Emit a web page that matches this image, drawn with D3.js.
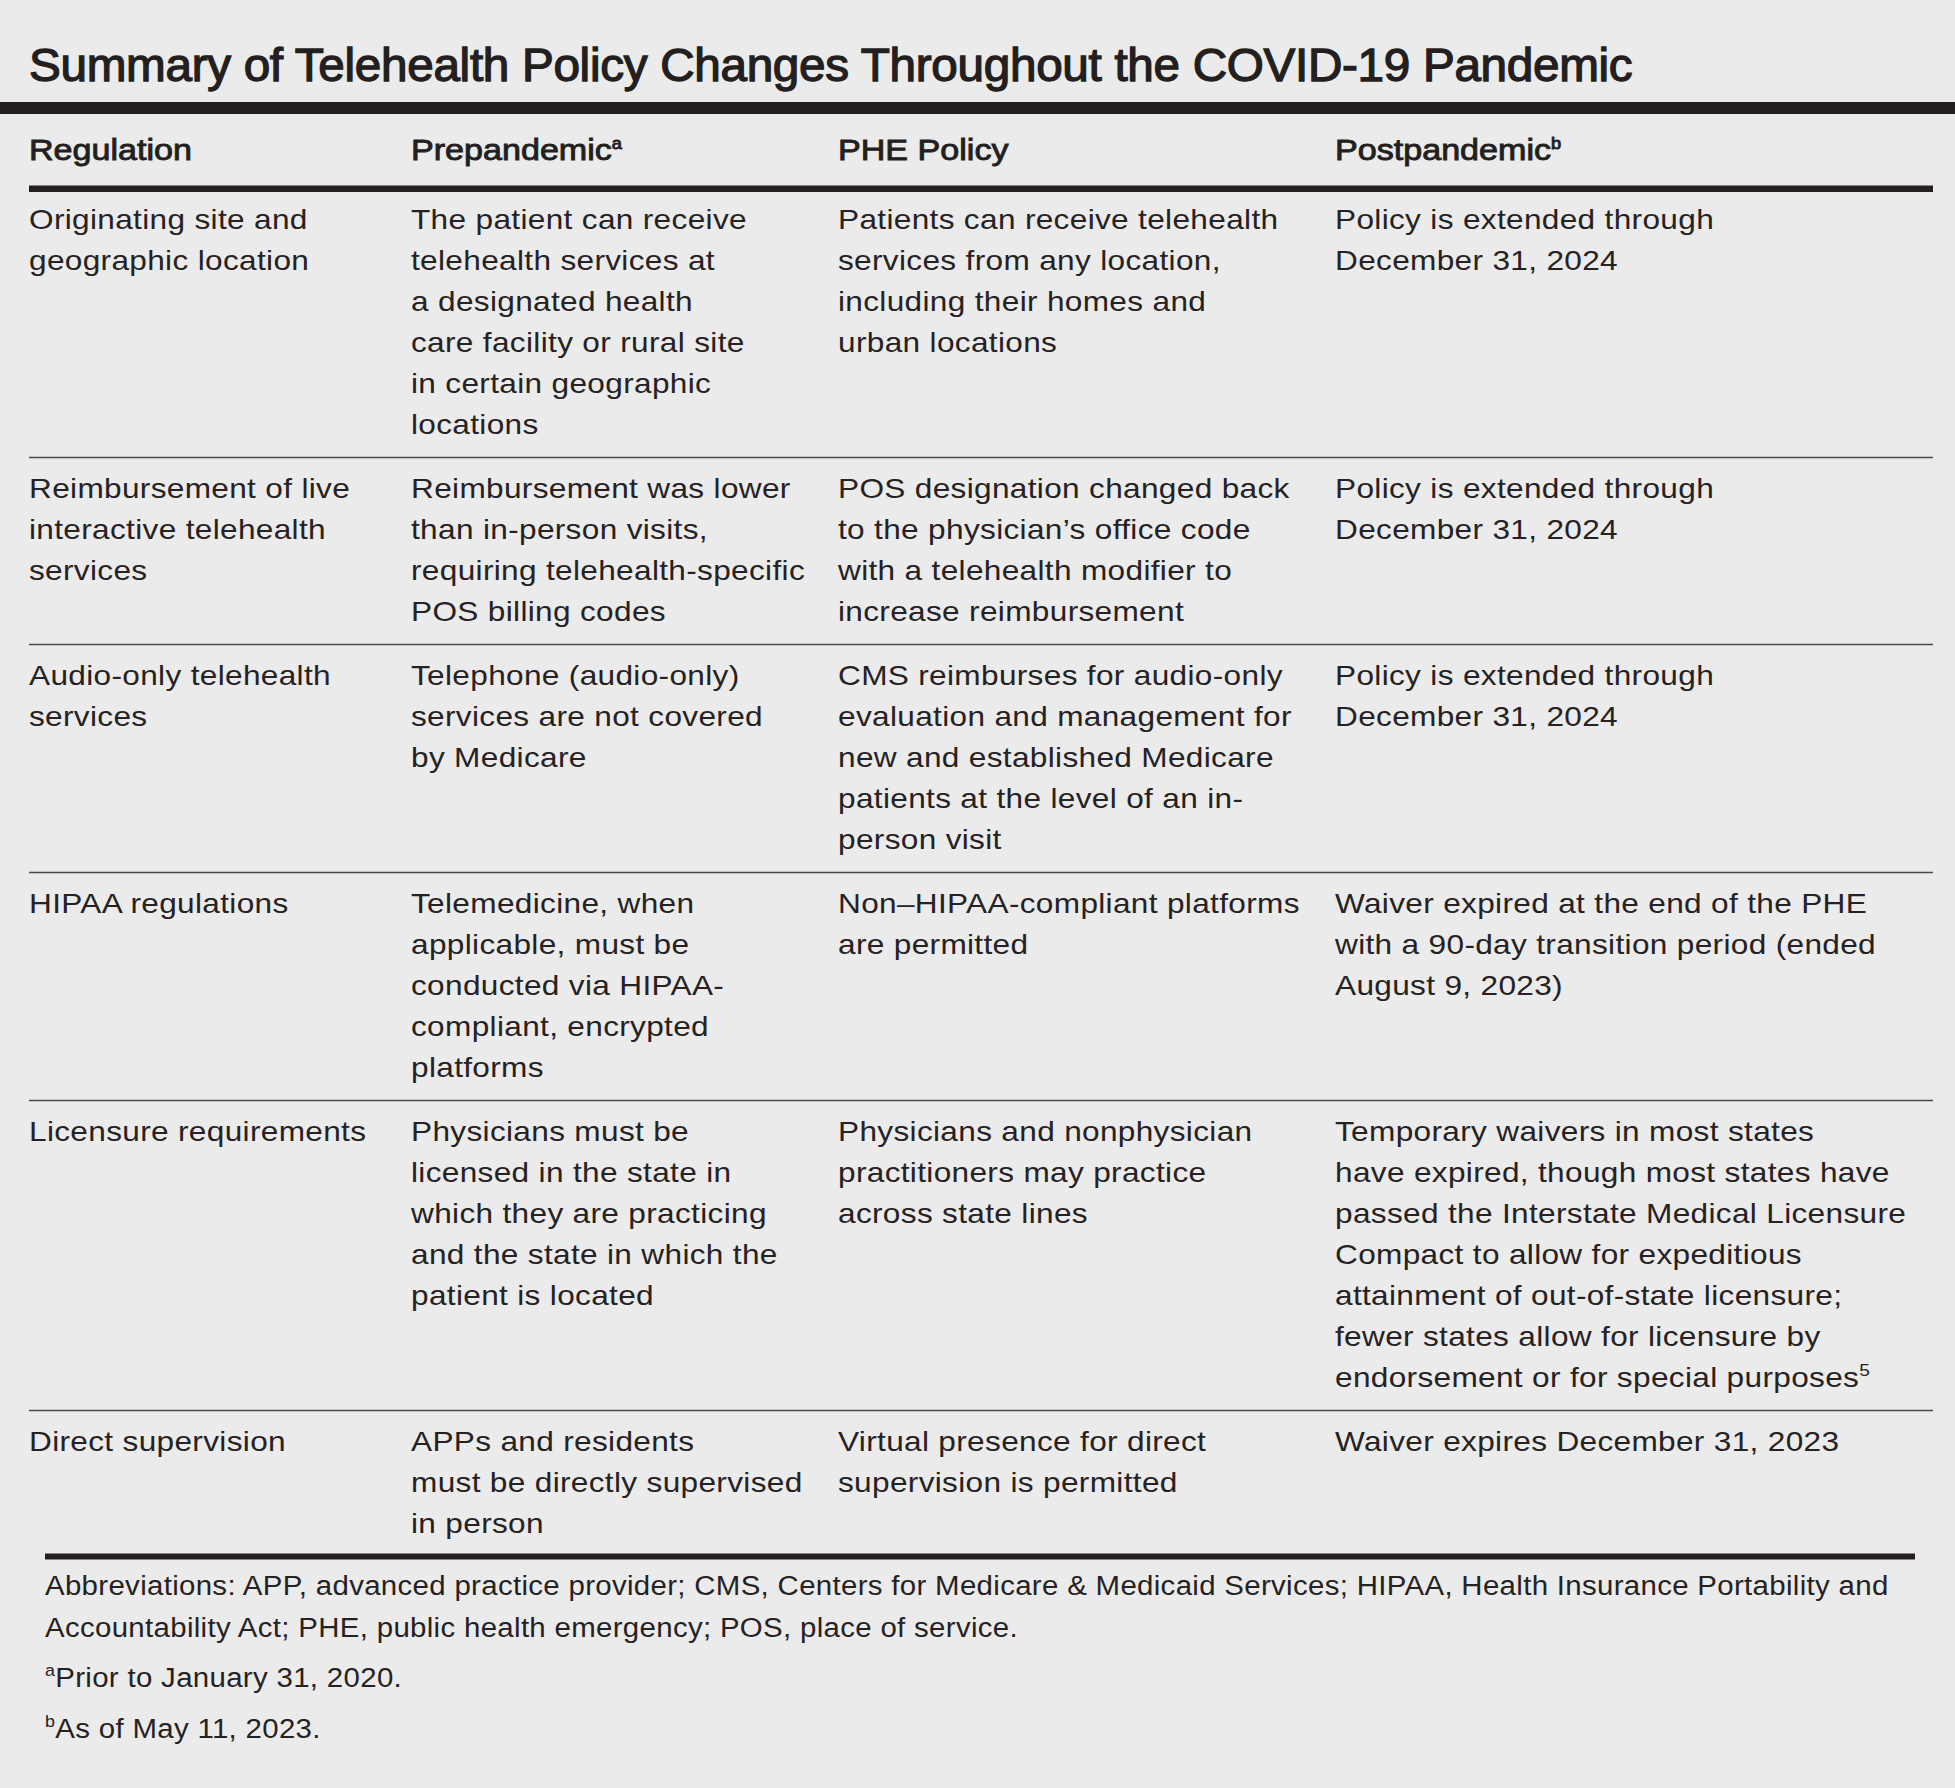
<!DOCTYPE html>
<html><head><meta charset="utf-8">
<script src="https://cdn.jsdelivr.net/npm/d3@7/dist/d3.min.js"></script>
<style>html,body{margin:0;padding:0;background:#ebebeb;} svg{display:block}</style>
</head><body>
<script>
// ---------- DATA ----------
const title = "Summary of Telehealth Policy Changes Throughout the COVID-19 Pandemic";
const headers = ["Regulation", "Prepandemic^{a}", "PHE Policy", "Postpandemic^{b}"];

const regulation = [
  ["Originating site and", "geographic location"],
  ["Reimbursement of live", "interactive telehealth", "services"],
  ["Audio-only telehealth", "services"],
  ["HIPAA regulations"],
  ["Licensure requirements"],
  ["Direct supervision"]
];
const prepandemic = [
  ["The patient can receive", "telehealth services at", "a designated health", "care facility or rural site", "in certain geographic", "locations"],
  ["Reimbursement was lower", "than in-person visits,", "requiring telehealth-specific", "POS billing codes"],
  ["Telephone (audio-only)", "services are not covered", "by Medicare"],
  ["Telemedicine, when", "applicable, must be", "conducted via HIPAA-", "compliant, encrypted", "platforms"],
  ["Physicians must be", "licensed in the state in", "which they are practicing", "and the state in which the", "patient is located"],
  ["APPs and residents", "must be directly supervised", "in person"]
];
const phePolicy = [
  ["Patients can receive telehealth", "services from any location,", "including their homes and", "urban locations"],
  ["POS designation changed back", "to the physician\u2019s office code", "with a telehealth modifier to", "increase reimbursement"],
  ["CMS reimburses for audio-only", "evaluation and management for", "new and established Medicare", "patients at the level of an in-", "person visit"],
  ["Non\u2013HIPAA-compliant platforms", "are permitted"],
  ["Physicians and nonphysician", "practitioners may practice", "across state lines"],
  ["Virtual presence for direct", "supervision is permitted"]
];
const postpandemic = [
  ["Policy is extended through", "December 31, 2024"],
  ["Policy is extended through", "December 31, 2024"],
  ["Policy is extended through", "December 31, 2024"],
  ["Waiver expired at the end of the PHE", "with a 90-day transition period (ended", "August 9, 2023)"],
  ["Temporary waivers in most states", "have expired, though most states have", "passed the Interstate Medical Licensure", "Compact to allow for expeditious", "attainment of out-of-state licensure;", "fewer states allow for licensure by", "endorsement or for special purposes^{5}"],
  ["Waiver expires December 31, 2023"]
];
const footnotes = [
  ["Abbreviations: APP, advanced practice provider; CMS, Centers for Medicare & Medicaid Services; HIPAA, Health Insurance Portability and",
   "Accountability Act; PHE, public health emergency; POS, place of service."],
  ["^{a}Prior to January 31, 2020."],
  ["^{b}As of May 11, 2023."]
];

// ---------- LAYOUT / STYLE ----------
const W = 1955, H = 1788;
const ink = "#231f20";
const font = "'Liberation Sans', Arial, Helvetica, sans-serif";

const svg = d3.select("body").append("svg").attr("width", W).attr("height", H);
svg.append("rect").attr("width", W).attr("height", H).attr("fill", "#ebebeb");

// horizontal scale so text widths match the reference typesetting
function scaleFor(size, weight, ls, sample, target) {
  const t = svg.append("text").attr("font-family", font).attr("font-size", size)
    .attr("font-weight", weight).attr("letter-spacing", ls).text(sample);
  const w = t.node().getComputedTextLength();
  t.remove();
  return target / w;
}

function rich(sel, str, supSize, supShift) {
  const parts = str.split(/\^\{([^}]*)\}/);
  let raised = false;
  parts.forEach((p, i) => {
    if (p === "") return;
    if (i % 2 === 1) {
      sel.append("tspan").attr("font-size", supSize).attr("dy", -supShift).text(p);
      raised = true;
    } else {
      const ts = sel.append("tspan").text(p);
      if (raised) { ts.attr("dy", supShift); raised = false; }
    }
  });
}

function placed(sel, x, y, s) {
  return sel.attr("transform", `translate(${x},${y}) scale(${s},1)`);
}

const cols = ["regulation", "prepandemic", "phePolicy", "postpandemic"];
const x = d3.scaleOrdinal().domain(cols).range([29, 411, 838, 1335]);

// Title
const titleS = scaleFor(46, 400, -0.3, title, 1604);
placed(svg.append("text"), 29, 81, titleS)
  .attr("font-family", font).attr("font-size", 46).attr("font-weight", 400)
  .attr("letter-spacing", -0.3)
  .attr("fill", ink).attr("stroke", ink).attr("stroke-width", 1.3)
  .text(title);

// top rule
svg.append("rect").attr("x", 0).attr("y", 102).attr("width", W).attr("height", 12).attr("fill", ink);

// header
const headS = scaleFor(30, 400, 0, "Regulation", 163);
svg.append("g").selectAll("text").data(headers).join("text")
  .each(function (d, i) { placed(d3.select(this), x(cols[i]), 160, headS); })
  .attr("font-family", font).attr("font-size", 30).attr("font-weight", 400)
  .attr("fill", ink).attr("stroke", ink).attr("stroke-width", 0.9)
  .each(function (d) { rich(d3.select(this), d, 16, 11); });

// header rule
svg.append("rect").attr("x", 29).attr("y", 185.5).attr("width", 1933 - 29).attr("height", 6.5).attr("fill", ink);

// body rows
const bodySize = 28, lineH = 41, topOff = 40, botGap = 24, bodyLS = 0.3;
const bodyS = scaleFor(bodySize, 400, bodyLS, "have expired, though most states have", 555);
const rows = regulation.map((r, i) => ({
  cells: [regulation[i], prepandemic[i], phePolicy[i], postpandemic[i]]
}));
let sepY = 188.5;
const seps = [];
rows.forEach((r, i) => {
  const n = d3.max(r.cells, c => c.length);
  r.y0 = sepY + topOff;
  sepY = r.y0 + (n - 1) * lineH + botGap;
  if (i < rows.length - 1) seps.push(sepY);
});
const bottomY = sepY;

const body = svg.append("g").attr("font-family", font).attr("font-size", bodySize)
  .attr("fill", "#262223").attr("letter-spacing", bodyLS);
rows.forEach(r => {
  r.cells.forEach((lines, ci) => {
    body.append("g").selectAll("text").data(lines).join("text")
      .each(function (d, li) { placed(d3.select(this), x(cols[ci]), r.y0 + li * lineH, bodyS); })
      .each(function (d) { rich(d3.select(this), d, 17, 11); });
  });
});

// separators
svg.append("g").selectAll("line").data(seps).join("line")
  .attr("x1", 29).attr("x2", 1933).attr("y1", d => d).attr("y2", d => d)
  .attr("stroke", "#4a4a4a").attr("stroke-width", 1.6);

// bottom rule
svg.append("rect").attr("x", 45).attr("y", bottomY - 3).attr("width", 1915 - 45).attr("height", 6).attr("fill", ink);

// footnotes
const footS = scaleFor(28, 400, bodyLS, footnotes[0][0], 1844);
const footY = [[1595, 1637], [1687], [1738]];
const foot = svg.append("g").attr("font-family", font).attr("font-size", 28)
  .attr("fill", "#262223").attr("letter-spacing", bodyLS);
footnotes.forEach((f, fi) => {
  f.forEach((line, li) => {
    placed(foot.append("text"), 45, footY[fi][li], footS)
      .each(function () { rich(d3.select(this), line, 17, 11); });
  });
});
</script>
</body></html>
